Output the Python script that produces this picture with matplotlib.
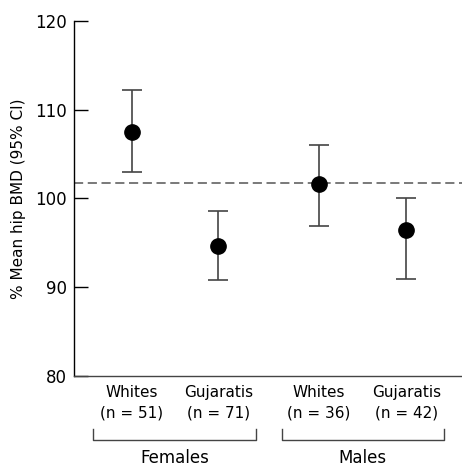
import matplotlib
matplotlib.use("Agg")
import matplotlib.pyplot as plt
import matplotlib.transforms as mtransforms

# data
groups = ["Females", "Males"]
labels = ["Whites\n(n = 51)", "Gujaratis\n(n = 71)", "Whites\n(n = 36)", "Gujaratis\n(n = 42)"]
means = [107.5, 94.6, 101.6, 96.4]
ci_low = [103.0, 90.8, 96.9, 90.9]
ci_high = [112.2, 98.6, 106.0, 100.0]
overall_mean = 101.7

xpos = [1, 2, 3.16, 4.17]
group_spans = [(0.55, 2.44), (2.73, 4.61)]

plt.rcParams['font.family'] = ['DejaVu Sans']

fig = plt.figure(figsize=(4.62, 4.67), dpi=100)
ax = fig.add_axes([0.160, 0.1955, 0.840, 0.7595])

yerr = [[m - lo for m, lo in zip(means, ci_low)],
        [hi - m for m, hi in zip(means, ci_high)]]
ax.errorbar(xpos, means, yerr=yerr, fmt='o', color='black', ecolor='#444444',
            elinewidth=1.2, capsize=7.5, capthick=1.2, markersize=11, zorder=3)

ax.axhline(overall_mean, color='#555555', lw=1.1, linestyle=(0, (6, 3)), zorder=1)

ax.set_xlim(0.33, 4.815)
ax.set_ylim(80, 120)
ax.set_yticks([80, 90, 100, 110, 120])
ax.set_xticks(xpos)
ax.set_xticklabels(labels, fontsize=11, linespacing=1.45)
ax.tick_params(axis='x', length=0, pad=7)
ax.tick_params(axis='y', direction='in', length=10, width=1, labelsize=12, pad=5)

ax.spines['top'].set_visible(False)
ax.spines['right'].set_visible(False)
ax.spines['left'].set_linewidth(1)
ax.spines['bottom'].set_linewidth(1)
ax.spines['bottom'].set_color('#444444')

ax.set_ylabel("% Mean hip BMD (95% CI)", fontsize=11, labelpad=7)

# group brackets below the tick labels
trans = mtransforms.blended_transform_factory(ax.transData, ax.transAxes)
for name, (x0, x1) in zip(groups, group_spans):
    ax.plot([x0, x0, x1, x1], [-0.150, -0.181, -0.181, -0.150], color='#444444',
            lw=1, transform=trans, clip_on=False)
    ax.text((x0 + x1) / 2, -0.232, name, transform=trans, ha='center', va='center',
            fontsize=12)

fig.savefig("out.png", dpi=100)
